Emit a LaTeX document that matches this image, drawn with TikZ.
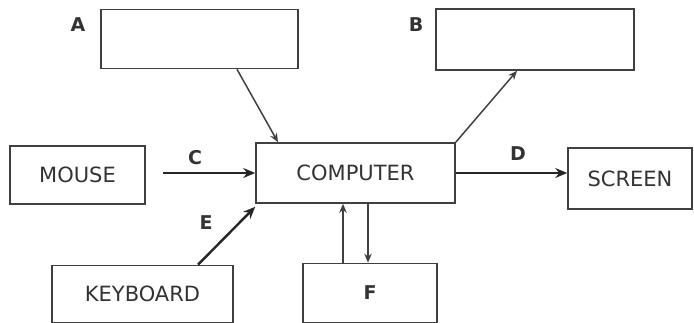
\documentclass[tikz,border=0pt]{standalone}
\usepackage{fontspec}
\setmainfont{DejaVu Sans}
\usetikzlibrary{arrows.meta}

\begin{document}
\begin{tikzpicture}[
    x=1pt, y=-1pt,
    every node/.style={align=center, text=black!80},
    box/.style={rectangle, draw=black!75, line width=1.6pt, font=\fontsize{21}{21}\selectfont, inner sep=0pt},
    tag/.style={font=\bfseries\fontsize{19}{19}\selectfont},
    thick arrow/.style={draw=black!85, line width=2.4pt, -{Stealth[length=12pt,width=10pt]}},
    thin arrow/.style={draw=black!75, line width=1.5pt, -{Stealth[length=9pt,width=7.5pt]}}
]
\useasboundingbox (0,0) rectangle (694,323);

% Nodes
\node[box, minimum width=197pt, minimum height=59pt] (a) at (199.5, 39) {};
\node[box, minimum width=198pt, minimum height=61pt] (b) at (535, 39.5) {};
\node[box, minimum width=135pt, minimum height=58pt] (mouse) at (77.5, 175) {MOUSE};
\node[box, minimum width=199pt, minimum height=60pt] (comp) at (355.5, 173) {COMPUTER};
\node[box, minimum width=124pt, minimum height=61pt] (screen) at (630, 178.5) {SCREEN};
\node[box, minimum width=181pt, minimum height=57pt] (kbd) at (142.5, 294) {KEYBOARD};
\node[box, minimum width=134pt, minimum height=59pt] (f) at (370, 293) {};

% Labels
\node[tag] (la) at (78, 25) {A};
\node[tag] (lb) at (416, 25) {B};
\node[tag] (lc) at (195, 158) {C};
\node[tag] (ld) at (518, 154) {D};
\node[tag] (le) at (206, 223) {E};
\node[tag] (lf) at (f) {F};

% Arrows
\draw[thin arrow] ([xshift=37.5pt]a.south) -- ([xshift=-77.5pt]comp.north);
\draw[thin arrow] (comp.north east) -- ([xshift=-18pt]b.south);
\draw[thick arrow, shorten <=17pt] (mouse.east |- comp.west) -- (comp.west);
\draw[thick arrow] (comp.east) -- (comp.east -| screen.west);
\draw[thick arrow] ([xshift=55.5pt]kbd.north) -- ([yshift=-3pt]comp.south west);
\draw[thin arrow] ([xshift=-27pt]f.north) -- ([xshift=-27pt]f.north |- comp.south);
\draw[thin arrow] ([xshift=-2pt]f.north |- comp.south) -- ([xshift=-2pt]f.north);

\end{tikzpicture}
\end{document}
